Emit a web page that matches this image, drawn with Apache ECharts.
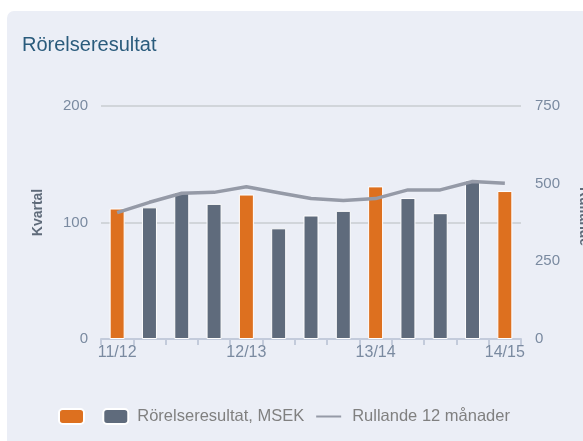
<!DOCTYPE html>
<html>
<head>
<meta charset="utf-8">
<script src="https://cdn.jsdelivr.net/npm/echarts@6/dist/echarts.min.js"></script>
<style>
html,body{margin:0;padding:0;background:#fff;}
#bg{position:absolute;left:7px;top:11px;width:576px;height:430px;background:#ebeef6;border-top-left-radius:7px;}
#chart{position:absolute;left:0;top:0;width:583px;height:441px;}
</style>
</head>
<body>
<div id="bg"></div>
<div id="chart"></div>
<script>
const categories = ['11/12','','','','12/13','','','','13/14','','','','14/15'];
const quarterValues = [112, 113, 126, 116, 124, 95, 106, 110, 131, 121, 108, 136, 127];
const fullYearIdx = [0, 4, 8, 12];
const rolling12 = [407, 440, 469, 472, 490, 471, 452, 446, 452, 480, 480, 507, 501];
const leftTicks = [0, 100, 200];
const rightTicks = [0, 250, 500, 750];

const orangeData = quarterValues.map((v, i) => fullYearIdx.includes(i) ? v : '-');
const grayData = quarterValues.map((v, i) => fullYearIdx.includes(i) ? '-' : v);

const FONT = 'Liberation Sans, Arial, sans-serif';
const chart = echarts.init(document.getElementById('chart'), null, {renderer: 'canvas'});
chart.setOption({
  backgroundColor: 'transparent',
  animation: false,
  textStyle: {fontFamily: FONT},
  title: {
    text: 'Rörelseresultat',
    left: 22, top: 35,
    padding: 0,
    textStyle: {fontFamily: FONT, fontSize: 20, fontWeight: 'normal', color: '#2a5b7c'}
  },
  grid: {left: 101, right: 62, top: 106, bottom: 102, containLabel: false, outerBoundsMode: 'none'},
  legend: {
    left: 53, top: 403,
    itemWidth: 25, itemHeight: 15, itemGap: 11,
    textStyle: {fontFamily: FONT, fontSize: 16.5, color: '#808080', padding: [0, 0, 0, 4]},
    formatter: function (name) { return name === 'Helår' ? ' ' : name; },
    data: [
      {name: 'Helår', icon: 'roundRect', textStyle: {fontSize: 1, padding: [0, 0, 0, 2]}},
      {name: 'Rörelseresultat, MSEK', icon: 'roundRect'},
      {name: 'Rullande 12 månader', itemStyle: {opacity: 0}, textStyle: {padding: [0, 0, 0, 6]}}
    ]
  },
  xAxis: {
    type: 'category',
    data: categories,
    boundaryGap: true,
    axisLine: {lineStyle: {color: '#c3cbdb', width: 2}},
    axisTick: {show: true, interval: 0, length: 6, lineStyle: {color: '#c3cbdb', width: 2}},
    axisLabel: {interval: 3, margin: 6, fontSize: 16, color: '#7a8aa0', fontFamily: FONT},
    splitLine: {show: false}
  },
  yAxis: [
    {
      type: 'value', min: leftTicks[0], max: leftTicks[leftTicks.length - 1], interval: 100,
      name: 'Kvartal', nameLocation: 'middle', nameGap: 56,
      nameTextStyle: {fontFamily: FONT, fontSize: 14, fontWeight: 'bold', color: '#5f6b7a', padding: [0, 0, 0, 20]},
      axisLine: {show: false}, axisTick: {show: false},
      axisLabel: {margin: 13, fontSize: 15, color: '#7a8aa0', fontFamily: FONT},
      splitLine: {lineStyle: {color: '#c9ccd1', width: 1.5}}
    },
    {
      type: 'value', min: rightTicks[0], max: rightTicks[rightTicks.length - 1], interval: 250,
      position: 'right',
      name: 'Rullande', nameLocation: 'middle', nameGap: 56, nameRotate: -90,
      nameTextStyle: {fontFamily: FONT, fontSize: 14, fontWeight: 'bold', color: '#5f6b7a', padding: [0, 12, 0, 0]},
      axisLine: {show: false}, axisTick: {show: false},
      axisLabel: {margin: 14, fontSize: 15, color: '#7a8aa0', fontFamily: FONT},
      splitLine: {show: false}
    }
  ],
  series: [
    {
      name: 'Helår', type: 'bar', data: orangeData, barWidth: 15, barGap: '-100%',
      itemStyle: {color: '#dd701f', borderColor: '#ffffff', borderWidth: 1}
    },
    {
      name: 'Rörelseresultat, MSEK', type: 'bar', data: grayData, barWidth: 15, barGap: '-100%',
      itemStyle: {color: '#5f6b7c', borderColor: '#ffffff', borderWidth: 1}
    },
    {
      name: 'Rullande 12 månader', type: 'line', yAxisIndex: 1, data: rolling12,
      symbol: 'none', showSymbol: false, z: 5,
      lineStyle: {color: '#959aa7', width: 3.5},
      itemStyle: {color: '#959aa7'}
    }
  ]
});
</script>
</body>
</html>
